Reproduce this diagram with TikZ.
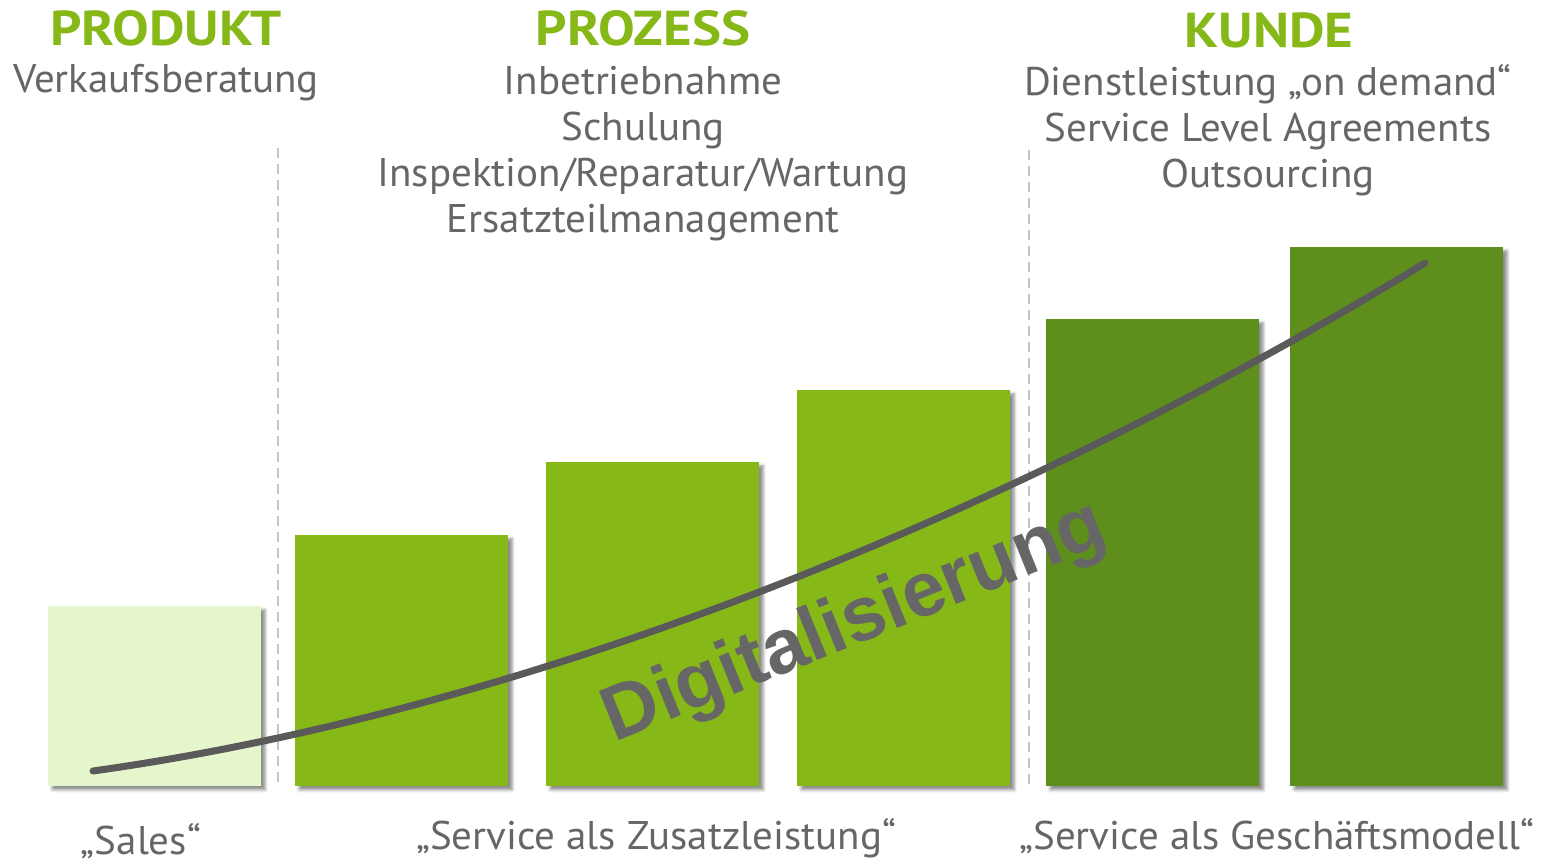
\documentclass[tikz,border=0pt]{standalone}
\usepackage{fontspec}
\setmainfont{PT Sans}
\newfontfamily\bodyfont[FakeStretch=1.025]{PT Sans}
\newfontfamily\headfont[FakeStretch=1.12]{PT Sans}
\newfontfamily\digfont{Liberation Sans}
\usetikzlibrary{shadows.blur}
\definecolor{lightgreen}{HTML}{E6F6CC}
\definecolor{midgreen}{HTML}{86B817}
\definecolor{darkgreen}{HTML}{5E8F1C}
\definecolor{txtgray}{HTML}{666666}
\definecolor{curvegray}{HTML}{5A5A5A}
\definecolor{dashgray}{HTML}{C4C4C4}
\tikzset{
  bar/.style={draw=none, anchor=south west, minimum width=213pt, inner sep=0pt,
    blur shadow={shadow xshift=4pt, shadow yshift=-4pt, shadow blur radius=3pt, shadow opacity=45}},
  head/.style={text=midgreen, font=\headfont\fontsize{49}{52}\selectfont\bfseries, inner sep=0pt},
  body/.style={text=txtgray, font=\bodyfont\fontsize{40}{46}\selectfont, align=center, inner sep=0pt},
  sep/.style={dashgray, line width=2pt, dash pattern=on 10pt off 6pt},
  curve/.style={curvegray, line width=7pt, line cap=round},
  dig/.style={text=txtgray, font=\digfont\fontsize{77}{80}\selectfont\bfseries, rotate=22, inner sep=0pt}
}
\begin{document}
\begin{tikzpicture}[x=1pt,y=-1pt]
\useasboundingbox (0,0) rectangle (1547,863);
% separators
\coordinate (s1t) at (278,148);
\coordinate (s1b) at (278,788);
\coordinate (s2t) at (1029,150);
\coordinate (s2b) at (1029,788);
\draw[sep] (s1t) -- (s1b);
\draw[sep] (s2t) -- (s2b);
% bars
\node[bar, fill=lightgreen, minimum height=180pt] (b1) at (48,786) {};
\node[bar, fill=midgreen, minimum height=251pt] (b2) at (295,786) {};
\node[bar, fill=midgreen, minimum height=324pt] (b3) at (546,786) {};
\node[bar, fill=midgreen, minimum height=396pt] (b4) at (797,786) {};
\node[bar, fill=darkgreen, minimum height=467pt] (b5) at (1046,786) {};
\node[bar, fill=darkgreen, minimum height=539pt] (b6) at (1290,786) {};
% curve
\coordinate (c0) at (93,771);
\coordinate (c1) at (1425,263);
\draw[curve] (c0) .. controls (600,700) and (1100,462) .. (c1);
% Digitalisierung
\node[dig] (dg) at (855,624) {Digitalisierung};
% headings
\node[head] (h1) at (166,28) {PRODUKT};
\node[head] (h2) at (643,28) {PROZESS};
\node[head] (h3) at (1269,30) {KUNDE};
\node[body] (t1) at (166,83) {Verkaufsberatung};
\node[body, anchor=north] (t2) at (643,66) {Inbetriebnahme\\Schulung\\Inspektion/Reparatur/Wartung\\Ersatzteilmanagement};
\node[body, anchor=north] (t3) at (1268,64) {Dienstleistung „on demand“\\Service Level Agreements\\Outsourcing};
% bottom labels
\node[body] (l1) at (141,841) {„Sales“};
\node[body] (l2) at (656,838) {„Service als Zusatzleistung“};
\node[body] (l3) at (1277,836) {„Service als Geschäftsmodell“};
\end{tikzpicture}
\end{document}
